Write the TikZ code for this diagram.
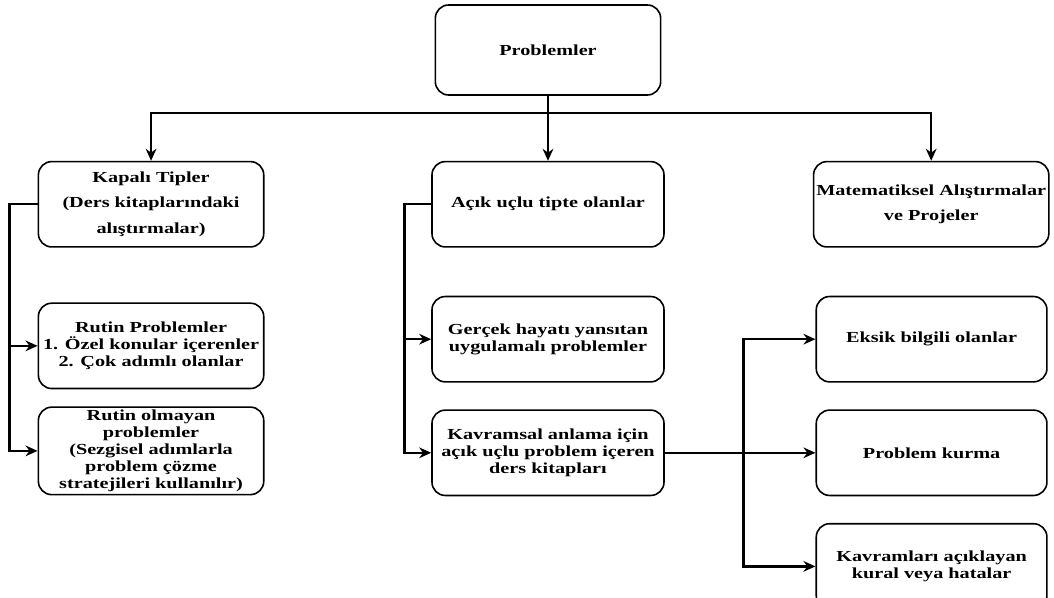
\documentclass[tikz,border=0pt]{standalone}
\usepackage{fontspec}
\setmainfont{Liberation Serif}[FakeStretch=1.32]
\usetikzlibrary{positioning,arrows.meta}

\begin{document}
\begin{tikzpicture}[
  node distance=36pt,
  font=\bfseries\fontsize{11.5}{12.8}\selectfont,
  box/.style={draw, line width=1.2pt, rounded corners=10pt, align=center, inner sep=2pt, minimum height=64pt},
  lbox/.style={box, minimum width=169pt},
  mbox/.style={box, minimum width=174pt},
  rbox/.style={box, minimum width=173pt},
  arr/.style={-{Stealth[length=9pt,width=8pt]}, line width=1.7pt}
]
\useasboundingbox (-411pt,37.5pt) rectangle (379.5pt,-411pt);

\node[box, minimum width=169pt, minimum height=67.5pt] (prob) {Problemler};
\node[mbox, below=48.75pt of prob] (acik) {Açık uçlu tipte olanlar};
\node[lbox, left=125pt of acik] (kapali) {Kapalı Tipler\\[6pt](Ders kitaplarındaki\\[6pt]alıştırmalar)};
\node[rbox, right=111pt of acik] (mat) {Matematiksel Alıştırmalar\\[6pt]ve Projeler};

% kapali tipler
\node[lbox, below=41pt of kapali] (rutin) {Rutin Problemler\\1. Özel konular içerenler\\2. Çok adımlı olanlar};
\node[lbox, below=12.75pt of rutin] (rutinol) {Rutin olmayan\\problemler\\(Sezgisel adımlarla\\problem çözme\\stratejileri kullanılır)};

% acik uclu
\node[mbox, below=36pt of acik] (gercek) {Gerçek hayatı yansıtan\\uygulamalı problemler};
\node[mbox, below=20pt of gercek] (kavram) {Kavramsal anlama için\\açık uçlu problem içeren\\ders kitapları};
\node[rbox, right=113pt of gercek] (eksik) {Eksik bilgili olanlar};
\node[rbox, below=20pt of eksik] (kurma) {Problem kurma};
\node[rbox, below=20pt of kurma] (kural) {Kavramları açıklayan\\kural veya hatalar};

\draw[arr] (prob) -- (acik);
\draw[arr] (prob.south) -- ++(0,-12.75pt) -| (kapali.north);
\draw[arr] (prob.south) -- ++(0,-12.75pt) -| (mat.north);

\draw[arr] (kapali.west) -- ++(-21pt,0) |- (rutin.west);
\draw[arr] (kapali.west) -- ++(-21pt,0) |- (rutinol.west);

\draw[arr] (acik.west) -- ++(-20pt,0) |- (gercek.west);
\draw[arr] (acik.west) -- ++(-20pt,0) |- (kavram.west);

\draw[arr] (kavram.east) -- (kurma.west);
\draw[arr] (kavram.east) -- ++(59pt,0) |- (eksik.west);
\draw[arr] (kavram.east) -- ++(59pt,0) |- (kural.west);
\end{tikzpicture}
\end{document}
